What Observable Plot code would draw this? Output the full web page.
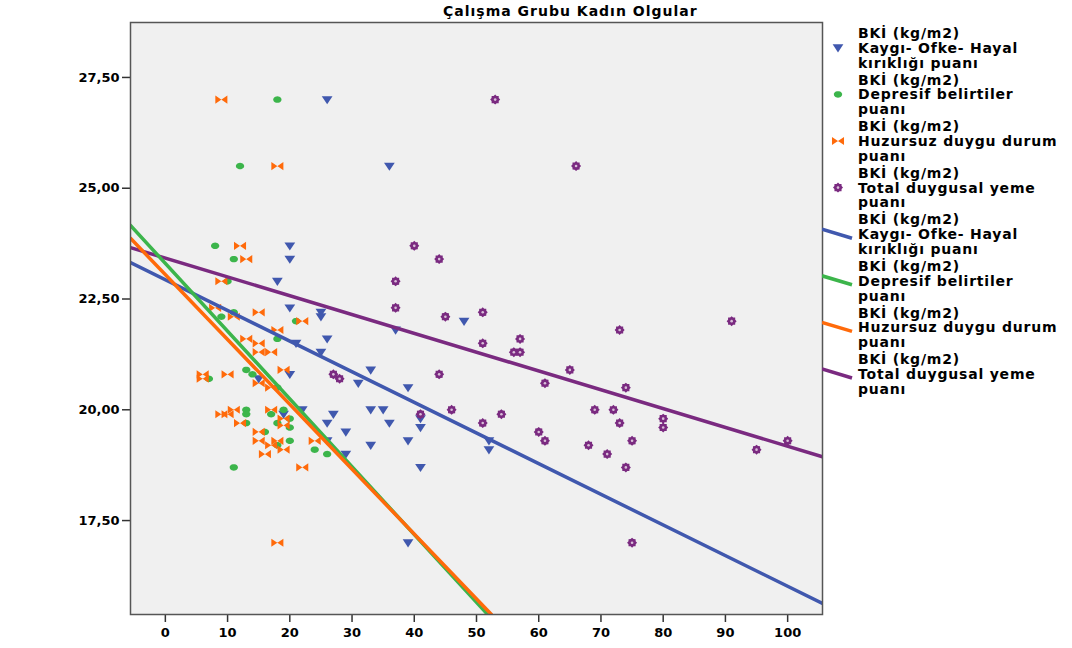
<!DOCTYPE html>
<html>
<head>
<meta charset="utf-8">
<script src="https://cdn.jsdelivr.net/npm/d3@7"></script>
<script src="https://cdn.jsdelivr.net/npm/@observablehq/plot@0.6"></script>
<style>
  body { margin: 0; background: #fff; }
  #wrap { position: relative; width: 1072px; height: 648px; font-family: "DejaVu Sans", sans-serif; font-weight: bold; }
  #title { position: absolute; left: 443px; top: 3px; font-size: 14px; letter-spacing: 1px; white-space: nowrap; }
  #chart { position: absolute; left: 0; top: 0; }
  #legend { position: absolute; left: 822px; top: 0; }
</style>
</head>
<body>
<div id="wrap">
  <div id="chart"></div>
  <div id="title">Çalışma Grubu Kadın Olgular</div>
  <div id="legend"></div>
</div>
<script>
// ---- data ----
const xTicks = [0, 10, 20, 30, 40, 50, 60, 70, 80, 90, 100];
const yTicks = [17.5, 20, 22.5, 25, 27.5];

const seriesNames = [
  "Kaygı- Ofke- Hayal kırıklığı puanı",
  "Depresif belirtiler puanı",
  "Huzursuz duygu durum puanı",
  "Total duygusal yeme puanı"
];

const kaygiX = [26, 36, 20, 20, 18, 20, 25, 25, 48, 37, 26, 21, 25, 20, 15, 33, 31, 39, 22, 19, 27, 33, 35, 26, 36, 41, 41, 29, 26, 39, 33, 29, 52, 52, 41, 39];
const kaygiY = [27.0, 25.5, 23.7, 23.4, 22.9, 22.3, 22.2, 22.1, 22.0, 21.8, 21.6, 21.5, 21.3, 20.8, 20.7, 20.9, 20.6, 20.5, 20.0, 19.9, 19.9, 20.0, 20.0, 19.7, 19.7, 19.8, 19.6, 19.5, 19.3, 19.3, 19.2, 19.0, 19.3, 19.1, 18.7, 17.0];

const depresifX = [18, 12, 8, 11, 10, 11, 9, 21, 18, 7, 13, 14, 18, 13, 13, 17, 19, 20, 20, 18, 13, 16, 18, 20, 24, 26, 11];
const depresifY = [27.0, 25.5, 23.7, 23.4, 22.9, 22.2, 22.1, 22.0, 21.6, 20.7, 20.9, 20.8, 20.5, 20.0, 19.9, 19.9, 20.0, 19.8, 19.6, 19.7, 19.7, 19.5, 19.2, 19.3, 19.1, 19.0, 18.7];

const huzursuzX = [9, 18, 12, 13, 9, 8, 11, 15, 22, 18, 13, 15, 15, 17, 6, 6, 10, 19, 15, 17, 9, 10, 11, 17, 19, 19, 12, 15, 15, 17, 18, 19, 16, 24, 22, 18];
const huzursuzY = [27.0, 25.5, 23.7, 23.4, 22.9, 22.3, 22.1, 22.2, 22.0, 21.8, 21.6, 21.5, 21.3, 21.3, 20.8, 20.7, 20.8, 20.9, 20.6, 20.5, 19.9, 19.9, 20.0, 20.0, 19.8, 19.65, 19.7, 19.5, 19.3, 19.2, 19.3, 19.1, 19.0, 19.3, 18.7, 17.0];

const totalX = [53, 66, 40, 44, 37, 37, 45, 51, 91, 73, 51, 57, 56, 57, 65, 27, 28, 44, 61, 74, 41, 46, 54, 51, 69, 72, 73, 80, 80, 60, 61, 68, 75, 71, 74, 95, 100, 75];
const totalY = [27.0, 25.5, 23.7, 23.4, 22.9, 22.3, 22.1, 22.2, 22.0, 21.8, 21.5, 21.6, 21.3, 21.3, 20.9, 20.8, 20.7, 20.8, 20.6, 20.5, 19.9, 20.0, 19.9, 19.7, 20.0, 20.0, 19.7, 19.8, 19.6, 19.5, 19.3, 19.2, 19.3, 19.0, 18.7, 19.1, 19.3, 17.0];

// fit lines: visible end points
const fitKaygiX = [-5.6, 105.6];      const fitKaygiY = [23.32, 15.63];
const fitDepresifX = [-5.6, 51.8];    const fitDepresifY = [24.16, 15.38];
const fitHuzursuzX = [-5.6, 52.4];    const fitHuzursuzY = [23.87, 15.38];
const fitTotalX = [-5.6, 105.6];      const fitTotalY = [23.66, 18.94];

const colors = ["#4058ae", "#3cb54b", "#ff6a0a", "#7a2a80"];
const lineColors = ["#4058ae", "#3cb54b", "#ff6a0a", "#7a2a80"];

// ---- helpers ----
const rows = (xs, ys) => xs.map((x, i) => ({x, y: ys[i]}));

const triDown = {draw(ctx, size) {
  const r = Math.sqrt(size / Math.PI);
  const w = r * 1.25, h = r * 1.0;
  ctx.moveTo(-w, -h * 0.8); ctx.lineTo(w, -h * 0.8); ctx.lineTo(0, h * 1.1); ctx.closePath();
}};
const bowtie = {draw(ctx, size) {
  const r = Math.sqrt(size / Math.PI);
  const w = r * 1.4, h = r * 0.95;
  ctx.moveTo(-w, -h); ctx.lineTo(w, h); ctx.lineTo(w, -h); ctx.lineTo(-w, h); ctx.closePath();
}};
const gear = {draw(ctx, size) {
  const r = Math.sqrt(size / Math.PI);
  for (let i = 0; i < 16; i++) {
    const a = i * Math.PI / 8;
    const rr = i % 2 ? r * 0.78 : r;
    const px = rr * Math.cos(a), py = rr * Math.sin(a);
    if (i === 0) ctx.moveTo(px, py); else ctx.lineTo(px, py);
  }
  ctx.closePath();
}};
const ellipse = {draw(ctx, size) {
  const r = Math.sqrt(size / Math.PI);
  for (let i = 0; i < 24; i++) {
    const a = i * Math.PI / 12;
    const px = r * 1.15 * Math.cos(a), py = r * 0.9 * Math.sin(a);
    if (i === 0) ctx.moveTo(px, py); else ctx.lineTo(px, py);
  }
  ctx.closePath();
}};

const fmtY = d => d.toFixed(2).replace(".", ",");
const total = rows(totalX, totalY);

const chart = Plot.plot({
  width: 823,
  height: 648,
  marginLeft: 130,
  marginRight: 1,
  marginTop: 22,
  marginBottom: 34,
  x: {domain: [-5.6, 105.6], label: null},
  y: {domain: [15.38, 28.74], label: null},
  style: {fontFamily: "DejaVu Sans, sans-serif", fontWeight: "bold", fontSize: "13px", color: "#000", background: "transparent", overflow: "visible"},
  marks: [
    Plot.frame({fill: "#f0f0f0", stroke: null}),
    Plot.axisY(yTicks, {tickFormat: fmtY, tickSize: 8, tickPadding: 3, stroke: "#333", strokeWidth: 1.5, fontSize: 13, label: null}),
    Plot.axisX(xTicks, {tickSize: 8, tickPadding: 5, stroke: "#333", strokeWidth: 1.5, fontSize: 13, label: null}),
    Plot.dot(rows(kaygiX, kaygiY), {x: "x", y: "y", symbol: triDown, r: 4.3, fill: colors[0], stroke: null}),
    Plot.dot(rows(depresifX, depresifY), {x: "x", y: "y", symbol: ellipse, r: 3.6, fill: colors[1], stroke: null}),
    Plot.dot(rows(huzursuzX, huzursuzY), {x: "x", y: "y", symbol: bowtie, r: 4.3, fill: colors[2], stroke: null}),
    Plot.dot(total, {x: "x", y: "y", symbol: gear, r: 5, fill: colors[3], stroke: null}),
    Plot.dot(total, {x: "x", y: "y", r: 1.3, fill: "#d9bfd9", stroke: null}),
    Plot.line(rows(fitKaygiX, fitKaygiY), {x: "x", y: "y", stroke: lineColors[0], strokeWidth: 3.5, clip: true}),
    Plot.line(rows(fitTotalX, fitTotalY), {x: "x", y: "y", stroke: lineColors[3], strokeWidth: 3.5, clip: true}),
    Plot.line(rows(fitDepresifX, fitDepresifY), {x: "x", y: "y", stroke: lineColors[1], strokeWidth: 3.5, clip: true}),
    Plot.line(rows(fitHuzursuzX, fitHuzursuzY), {x: "x", y: "y", stroke: lineColors[2], strokeWidth: 3.5, clip: true}),
    Plot.frame({stroke: "#555", strokeWidth: 1.5})
  ]
});
document.getElementById("chart").appendChild(chart);

// ---- legend ----
const legendLines = [
  ["BKİ (kg/m2)", "Kaygı- Ofke- Hayal", "kırıklığı puanı"],
  ["BKİ (kg/m2)", "Depresif belirtiler", "puanı"],
  ["BKİ (kg/m2)", "Huzursuz duygu durum", "puanı"],
  ["BKİ (kg/m2)", "Total duygusal yeme", "puanı"]
];
const symbols = [triDown, ellipse, bowtie, gear];
const symR = [4.3, 3.6, 4.3, 5];
const svg = d3.create("svg").attr("width", 250).attr("height", 648)
  .style("font-family", "DejaVu Sans, sans-serif").style("font-weight", "bold").style("font-size", "14px");
const entryH = 46.6;
for (let k = 0; k < 8; k++) {
  const s = k % 4;
  const top = 38 + k * entryH;
  const g = svg.append("g");
  legendLines[s].forEach((t, j) => {
    g.append("text").attr("x", 36).attr("y", top + j * 14.8).attr("letter-spacing", "0.8px").attr("fill", "#000").text(t);
  });
  const cy = top + 14.8 - 5;
  if (k < 4) {
    g.append("path").attr("transform", `translate(16,${cy})`)
      .attr("d", d3.symbol(symbols[s], Math.PI * symR[s] * symR[s])()).attr("fill", colors[s]);
    if (s === 3) g.append("circle").attr("cx", 16).attr("cy", cy).attr("r", 1.3).attr("fill", "#d9bfd9");
  } else {
    g.append("line").attr("x1", 0).attr("y1", cy - 5).attr("x2", 30).attr("y2", cy + 4)
      .attr("stroke", lineColors[s]).attr("stroke-width", 3.5);
  }
}
document.getElementById("legend").appendChild(svg.node());
</script>
</body>
</html>
